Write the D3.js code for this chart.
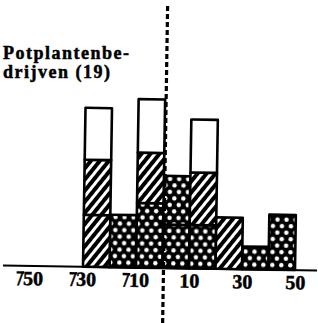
<!DOCTYPE html>
<html>
<head>
<meta charset="utf-8">
<script src="https://cdn.jsdelivr.net/npm/d3@7"></script>
<style>
  body { margin: 0; background: #fff; }
</style>
</head>
<body>
<script>
// klassen: linkergrens van elke klasse (procentuele verandering)
var klassen = [-30, -20, -10, 0, 10, 20, 30, 40];
var gekruist   = [0, 9.9, 12.2, 8.2, 8.2, 0, 4.3, 10.4];
var gekruist2  = [0, 0, 0, 9.2, 0, 0, 0, 0];
var gearceerd  = [9.8, 0, 9.5, 0, 9.9, 9.7, 0, 0];
var gearceerd2 = [10.4, 0, 0, 0, 0, 0, 0, 0];
var open       = [9.8, 0, 10.1, 0, 10.0, 0, 0, 0];
var tickWaarden = [-50, -30, -10, 10, 30, 50];
var titel = ["Potplantenbe-", "drijven (19)"];

var breedte = 318, hoogte = 323;

var svg = d3.select("body").append("svg")
    .attr("width", breedte)
    .attr("height", hoogte)
    .style("background", "#fff");

var defs = svg.append("defs");

// diagonale arcering
var arc = defs.append("pattern")
    .attr("id", "arcering")
    .attr("patternUnits", "userSpaceOnUse")
    .attr("width", 7).attr("height", 7)
    .attr("patternTransform", "rotate(38)");
arc.append("rect").attr("width", 7).attr("height", 7).attr("fill", "#fff");
arc.append("rect").attr("width", 4).attr("height", 7).attr("fill", "#000");

// kruisarcering: zwart met witte stipjes
var kr = defs.append("pattern")
    .attr("id", "kruis")
    .attr("patternUnits", "userSpaceOnUse")
    .attr("width", 9).attr("height", 13);
kr.append("rect").attr("width", 9).attr("height", 13).attr("fill", "#000");
kr.append("circle").attr("cx", 2.25).attr("cy", 3.25).attr("r", 2.2).attr("fill", "#fff");
kr.append("circle").attr("cx", 6.75).attr("cy", 9.75).attr("r", 2.2).attr("fill", "#fff");

var vulling = {
    gekruist: "url(#kruis)",
    gekruist2: "url(#kruis)",
    gearceerd: "url(#arcering)",
    gearceerd2: "url(#arcering)",
    open: "#fff"
};

var tabel = klassen.map(function (k, i) {
    return {
        klasse: k,
        gekruist: gekruist[i],
        gekruist2: gekruist2[i],
        gearceerd: gearceerd[i],
        gearceerd2: gearceerd2[i],
        open: open[i]
    };
});

var lagen = d3.stack()
    .keys(["gekruist", "gekruist2", "gearceerd", "gearceerd2", "open"])(tabel);

var x = d3.scaleLinear().domain([-30, 50]).range([83, 295]);
var y = d3.scaleLinear().domain([0, 10]).range([268, 215]);

// scan staat iets scheef
var g = svg.append("g").attr("transform", "rotate(0.9,163,268)");

lagen.forEach(function (laag) {
    g.append("g")
        .selectAll("rect")
        .data(laag.filter(function (d) { return d[1] - d[0] > 0; }))
        .enter()
        .append("rect")
        .attr("x", function (d) { return x(d.data.klasse); })
        .attr("width", function (d) { return x(d.data.klasse + 10) - x(d.data.klasse); })
        .attr("y", function (d) { return y(d[1]); })
        .attr("height", function (d) { return y(d[0]) - y(d[1]); })
        .attr("fill", vulling[laag.key])
        .attr("stroke", "#000")
        .attr("stroke-width", 2.6)
        .attr("stroke-linejoin", "round");
});

// basislijn
g.append("line")
    .attr("x1", 3)
    .attr("x2", 317)
    .attr("y1", y(0)).attr("y2", y(0))
    .attr("stroke", "#000")
    .attr("stroke-width", 2);

// as met labels
var as = d3.axisBottom(x)
    .tickValues(tickWaarden)
    .tickSize(0)
    .tickPadding(5)
    .tickFormat(function (d) { return (d < 0 ? "/" : "") + Math.abs(d); });

var asG = g.append("g")
    .attr("transform", "translate(0," + y(0) + ")")
    .call(as);
asG.select(".domain").remove();
asG.selectAll(".tick text")
    .style("font-family", "'Liberation Serif', serif")
    .style("font-weight", "bold")
    .style("font-size", "20px")
    .attr("fill", "#000")
    .attr("stroke", "#000")
    .attr("stroke-width", 0.5);

// streepje boven de schuine streep (min-teken)
asG.selectAll(".tick").each(function (d) {
    if (d >= 0) return;
    var t = d3.select(this).select("text").node();
    var a = t.getStartPositionOfChar(0);
    var b = t.getEndPositionOfChar(0);
    d3.select(this).append("line")
        .attr("x1", a.x - 1).attr("x2", b.x + 1)
        .attr("y1", a.y - 12.5).attr("y2", a.y - 12.5)
        .attr("stroke", "#000")
        .attr("stroke-width", 2.4);
});

// stippellijn bij nul
g.append("line")
    .attr("x1", x(0) + 1).attr("x2", x(0) + 1)
    .attr("y1", 6).attr("y2", 330)
    .attr("stroke", "#000")
    .attr("stroke-width", 3.2)
    .attr("stroke-dasharray", "5,3");

// titel
var tt = svg.append("text")
    .attr("x", 3)
    .attr("y", 59)
    .style("font-family", "'Liberation Serif', serif")
    .style("font-weight", "bold")
    .style("font-size", "18px")
    .style("letter-spacing", "1.5px")
    .attr("fill", "#000")
    .attr("stroke", "#000")
    .attr("stroke-width", 0.5);
titel.forEach(function (r, i) {
    tt.append("tspan").attr("x", 3).attr("dy", i === 0 ? 0 : 19).text(r);
});
</script>
</body>
</html>
